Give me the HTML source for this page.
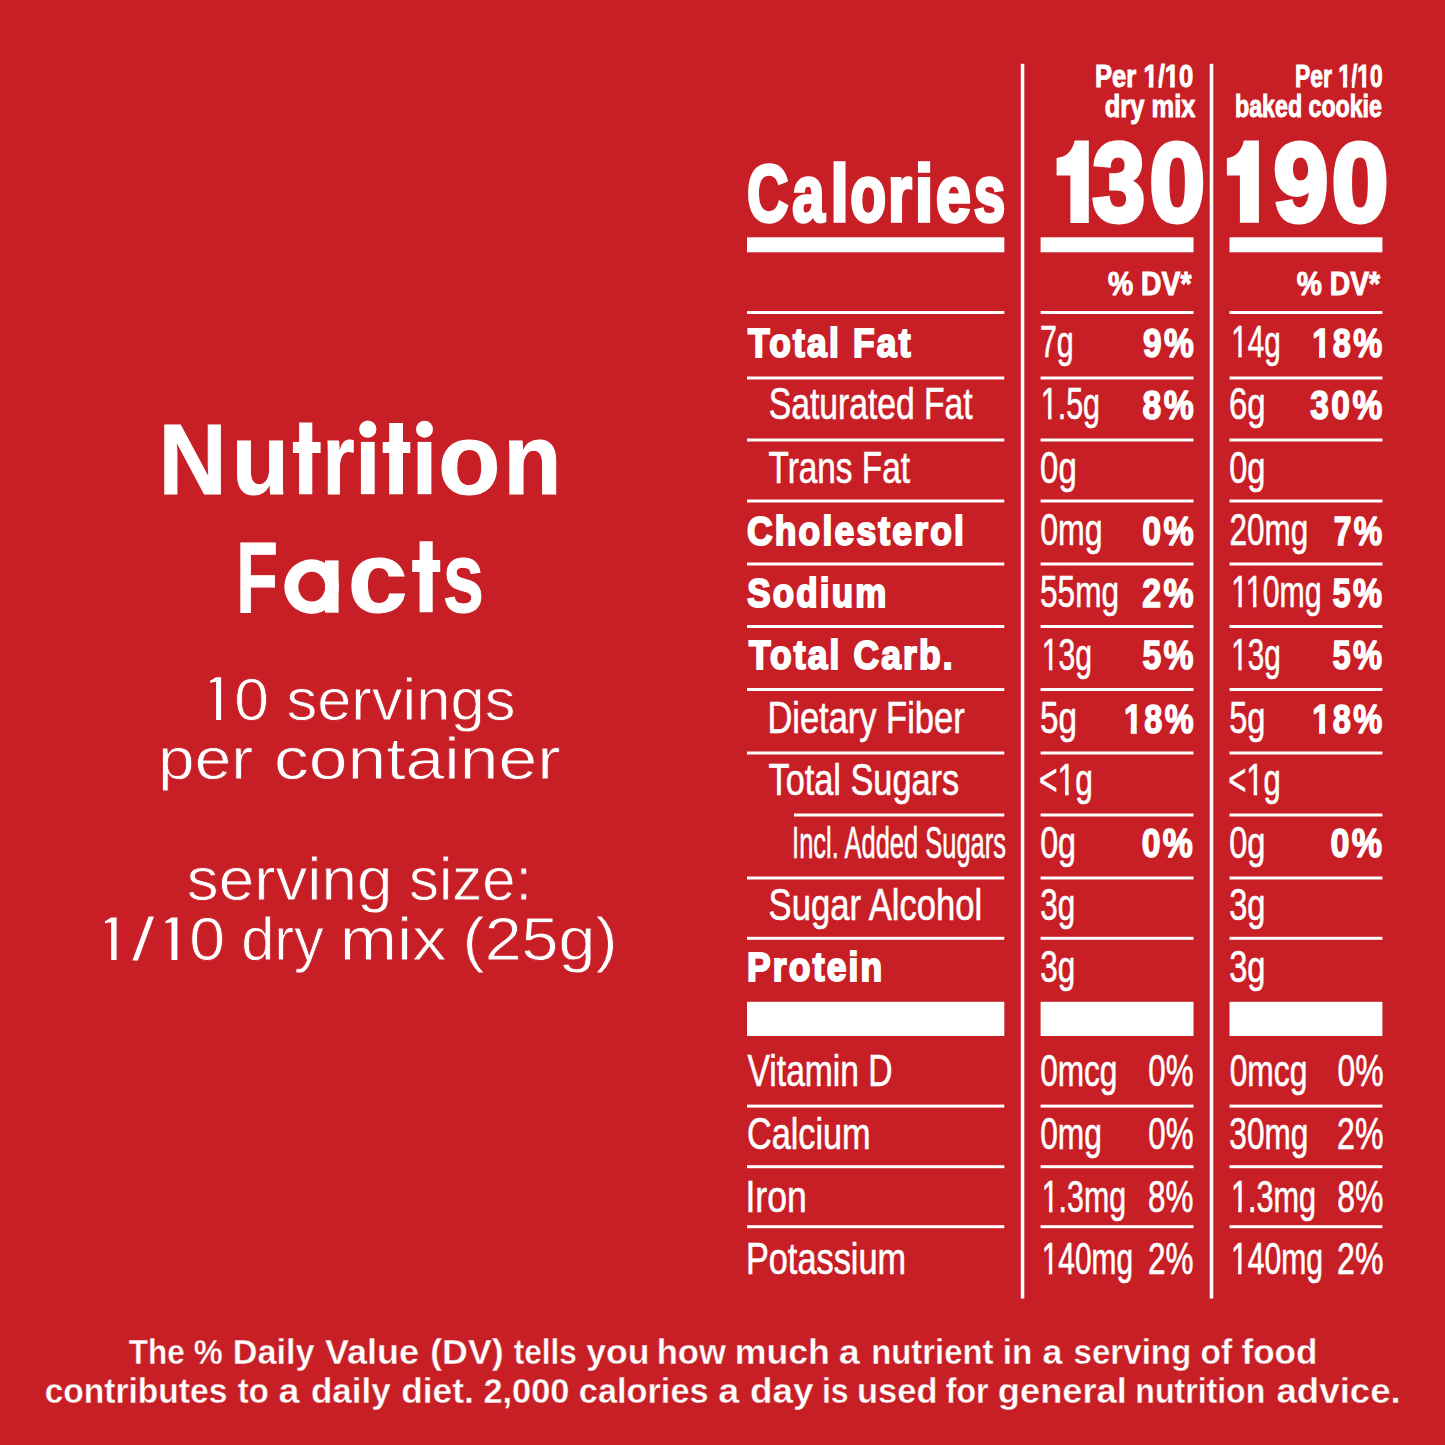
<!DOCTYPE html>
<html><head><meta charset="utf-8"><style>
html,body{margin:0;padding:0;background:#c81f27;}
svg{display:block;}
text{font-family:"Liberation Sans",sans-serif;fill:#fff;white-space:pre;}
</style></head><body>
<svg width="1445" height="1445" viewBox="0 0 1445 1445">
<rect x="0" y="0" width="1445" height="1445" fill="#c81f27"/>
<g fill="#fff">
<circle cx="367.8" cy="429.2" r="8.6"/>
<circle cx="424.5" cy="429.2" r="8.5"/>
<ellipse cx="311.6" cy="586.6" rx="27.3" ry="27.3"/>
<ellipse cx="311.8" cy="586.7" rx="13.4" ry="14.9" fill="#c81f27"/>
<path d="M1070.4,223.1 L1088.8,223.1 L1088.8,140.6 L1074.7,140.6 C1072.5,151 1066,157.5 1056.6,157.9 L1056.6,175.4 L1070.4,175.4 Z"/>
<path d="M1239.9,222.8 L1258.9,222.8 L1258.9,140.6 L1243.9,140.6 C1241.7,151 1235.5,157.6 1226.9,158 L1226.9,175.5 L1239.9,175.5 Z"/>
<path d="M299.1,422.6 H312.3 V442 H320.6 V453 H312.3 V494.2 H299.1 V453 H292.9 V442 H299.1 Z"/>
<path d="M389.2,423.0 H403.0 V442 H410.3 V453 H403.0 V494.2 H389.2 V453 H382.7 V442 H389.2 Z"/>
<path d="M360.9,441.9 H374.7 V494.2 H360.9 Z"/>
<path d="M417.6,441.9 H431.4 V494.2 H417.6 Z"/>
<path d="M419.6,541.2 H432.7 V560 H440.2 V572 H432.7 V612.2 H419.6 V572 H412.2 V560 H419.6 Z"/>
<path d="M325,560.4 H338.6 V612.7 H325 Z"/>
<path d="M216.1,677.2 H221.1 V719.9 H216.1 V681.8000000000001 L210.1,682.8000000000001 L210.1,680.8000000000001 Z"/>
<path d="M111.2,917.6 H116.6 V960 H111.2 V922.2 L105.0,923.2 L105.0,921.2 Z"/>
<path d="M171.5,917.6 H177.4 V960 H171.5 V922.2 L165.5,923.2 L165.5,921.2 Z"/>
<rect x="1020.80" y="63.80" width="3.50" height="1234.70"/>
<rect x="1209.70" y="63.80" width="3.60" height="1234.70"/>
<rect x="747.00" y="237.30" width="257.30" height="15.00"/>
<rect x="747.00" y="1001.80" width="257.30" height="34.20"/>
<rect x="1040.60" y="237.30" width="152.90" height="15.00"/>
<rect x="1040.60" y="1001.80" width="152.90" height="34.20"/>
<rect x="1229.50" y="237.30" width="152.90" height="15.00"/>
<rect x="1229.50" y="1001.80" width="152.90" height="34.20"/>
<rect x="747.00" y="311.00" width="257.30" height="3.00"/>
<rect x="1040.60" y="311.00" width="152.90" height="3.00"/>
<rect x="1229.50" y="311.00" width="152.90" height="3.00"/>
<rect x="747.00" y="376.50" width="257.30" height="3.00"/>
<rect x="1040.60" y="376.50" width="152.90" height="3.00"/>
<rect x="1229.50" y="376.50" width="152.90" height="3.00"/>
<rect x="747.00" y="438.50" width="257.30" height="3.00"/>
<rect x="1040.60" y="438.50" width="152.90" height="3.00"/>
<rect x="1229.50" y="438.50" width="152.90" height="3.00"/>
<rect x="747.00" y="499.50" width="257.30" height="3.00"/>
<rect x="1040.60" y="499.50" width="152.90" height="3.00"/>
<rect x="1229.50" y="499.50" width="152.90" height="3.00"/>
<rect x="747.00" y="562.50" width="257.30" height="3.00"/>
<rect x="1040.60" y="562.50" width="152.90" height="3.00"/>
<rect x="1229.50" y="562.50" width="152.90" height="3.00"/>
<rect x="747.00" y="625.00" width="257.30" height="3.00"/>
<rect x="1040.60" y="625.00" width="152.90" height="3.00"/>
<rect x="1229.50" y="625.00" width="152.90" height="3.00"/>
<rect x="747.00" y="688.00" width="257.30" height="3.00"/>
<rect x="1040.60" y="688.00" width="152.90" height="3.00"/>
<rect x="1229.50" y="688.00" width="152.90" height="3.00"/>
<rect x="747.00" y="751.50" width="257.30" height="3.00"/>
<rect x="1040.60" y="751.50" width="152.90" height="3.00"/>
<rect x="1229.50" y="751.50" width="152.90" height="3.00"/>
<rect x="794.00" y="813.50" width="210.30" height="3.00"/>
<rect x="1040.60" y="813.50" width="152.90" height="3.00"/>
<rect x="1229.50" y="813.50" width="152.90" height="3.00"/>
<rect x="747.00" y="876.50" width="257.30" height="3.00"/>
<rect x="1040.60" y="876.50" width="152.90" height="3.00"/>
<rect x="1229.50" y="876.50" width="152.90" height="3.00"/>
<rect x="747.00" y="936.80" width="257.30" height="3.00"/>
<rect x="1040.60" y="936.80" width="152.90" height="3.00"/>
<rect x="1229.50" y="936.80" width="152.90" height="3.00"/>
<rect x="747.00" y="1104.60" width="257.30" height="3.00"/>
<rect x="1040.60" y="1104.60" width="152.90" height="3.00"/>
<rect x="1229.50" y="1104.60" width="152.90" height="3.00"/>
<rect x="747.00" y="1165.20" width="257.30" height="3.00"/>
<rect x="1040.60" y="1165.20" width="152.90" height="3.00"/>
<rect x="1229.50" y="1165.20" width="152.90" height="3.00"/>
<rect x="747.00" y="1225.20" width="257.30" height="3.00"/>
<rect x="1040.60" y="1225.20" width="152.90" height="3.00"/>
<rect x="1229.50" y="1225.20" width="152.90" height="3.00"/>
</g>
<text id="t0" x="1094.94" y="86.50" font-size="31.57" font-weight="700" stroke="#fff" stroke-linejoin="miter" stroke-miterlimit="2" stroke-width="1.0" textLength="98.32" lengthAdjust="spacingAndGlyphs">Per 1/10</text>
<text x="1104.80" y="117.20" font-size="30.57" font-weight="700" stroke="#fff" stroke-linejoin="miter" stroke-miterlimit="2" stroke-width="1.0" textLength="90.59" lengthAdjust="spacingAndGlyphs">dry mix</text>
<text id="t1" x="1295.08" y="86.50" font-size="31.57" font-weight="700" stroke="#fff" stroke-linejoin="miter" stroke-miterlimit="2" stroke-width="1.0" textLength="87.51" lengthAdjust="spacingAndGlyphs">Per 1/10</text>
<text x="1235.07" y="116.90" font-size="30.57" font-weight="700" stroke="#fff" stroke-linejoin="miter" stroke-miterlimit="2" stroke-width="1.0" textLength="146.89" lengthAdjust="spacingAndGlyphs">baked cookie</text>
<text x="747.06" y="221.45" font-size="80.00" font-weight="700" stroke="#fff" stroke-linejoin="miter" stroke-miterlimit="2" stroke-width="3.5" textLength="41.45" lengthAdjust="spacingAndGlyphs">C</text>
<text x="792.23" y="221.45" font-size="80.00" font-weight="700" stroke="#fff" stroke-linejoin="miter" stroke-miterlimit="2" stroke-width="3.5" textLength="32.39" lengthAdjust="spacingAndGlyphs">a</text>
<text x="830.45" y="221.45" font-size="80.00" font-weight="700" stroke="#fff" stroke-linejoin="miter" stroke-miterlimit="2" stroke-width="3.5" textLength="18.18" lengthAdjust="spacingAndGlyphs">l</text>
<text x="850.24" y="221.45" font-size="80.00" font-weight="700" stroke="#fff" stroke-linejoin="miter" stroke-miterlimit="2" stroke-width="3.5" textLength="35.88" lengthAdjust="spacingAndGlyphs">o</text>
<text x="888.05" y="221.45" font-size="80.00" font-weight="700" stroke="#fff" stroke-linejoin="miter" stroke-miterlimit="2" stroke-width="3.5" textLength="23.87" lengthAdjust="spacingAndGlyphs">r</text>
<text x="914.87" y="221.45" font-size="80.00" font-weight="700" stroke="#fff" stroke-linejoin="miter" stroke-miterlimit="2" stroke-width="3.5" textLength="18.65" lengthAdjust="spacingAndGlyphs">i</text>
<text x="935.75" y="221.45" font-size="80.00" font-weight="700" stroke="#fff" stroke-linejoin="miter" stroke-miterlimit="2" stroke-width="3.5" textLength="35.15" lengthAdjust="spacingAndGlyphs">e</text>
<text x="973.86" y="221.45" font-size="80.00" font-weight="700" stroke="#fff" stroke-linejoin="miter" stroke-miterlimit="2" stroke-width="3.5" textLength="31.54" lengthAdjust="spacingAndGlyphs">s</text>
<text x="1092.57" y="220.50" font-size="110.86" font-weight="700" stroke="#fff" stroke-linejoin="miter" stroke-miterlimit="2" stroke-width="5" textLength="52.52" lengthAdjust="spacingAndGlyphs">3</text>
<text x="1149.46" y="220.50" font-size="110.86" font-weight="700" stroke="#fff" stroke-linejoin="miter" stroke-miterlimit="2" stroke-width="5" textLength="55.50" lengthAdjust="spacingAndGlyphs">0</text>
<text x="1273.57" y="220.50" font-size="110.86" font-weight="700" stroke="#fff" stroke-linejoin="miter" stroke-miterlimit="2" stroke-width="5" textLength="54.87" lengthAdjust="spacingAndGlyphs">9</text>
<text x="1331.63" y="220.50" font-size="110.86" font-weight="700" stroke="#fff" stroke-linejoin="miter" stroke-miterlimit="2" stroke-width="5" textLength="56.57" lengthAdjust="spacingAndGlyphs">0</text>
<text x="1108.03" y="294.80" font-size="32.57" font-weight="700" stroke="#fff" stroke-linejoin="miter" stroke-miterlimit="2" stroke-width="1.0" textLength="83.39" lengthAdjust="spacingAndGlyphs">% DV*</text>
<text x="1296.73" y="294.50" font-size="32.57" font-weight="700" stroke="#fff" stroke-linejoin="miter" stroke-miterlimit="2" stroke-width="1.0" textLength="83.39" lengthAdjust="spacingAndGlyphs">% DV*</text>
<text x="748.03" y="356.60" font-size="40.14" font-weight="700" stroke="#fff" stroke-linejoin="miter" stroke-miterlimit="2" stroke-width="2.0" letter-spacing="2.5" textLength="164.73" lengthAdjust="spacingAndGlyphs">Total Fat</text>
<text x="1039.89" y="357.30" font-size="44.14" font-weight="400" stroke="#fff" stroke-linejoin="miter" stroke-miterlimit="2" stroke-width="0.6" textLength="33.75" lengthAdjust="spacingAndGlyphs">7g</text>
<text x="1142.94" y="356.85" font-size="41.36" font-weight="700" stroke="#fff" stroke-linejoin="miter" stroke-miterlimit="2" stroke-width="1.5" letter-spacing="3.0" textLength="53.23" lengthAdjust="spacingAndGlyphs">9%</text>
<text id="t2" x="1231.28" y="357.30" font-size="44.14" font-weight="400" stroke="#fff" stroke-linejoin="miter" stroke-miterlimit="2" stroke-width="0.6" textLength="49.45" lengthAdjust="spacingAndGlyphs">14g</text>
<text id="t3" x="1312.27" y="356.85" font-size="41.36" font-weight="700" stroke="#fff" stroke-linejoin="miter" stroke-miterlimit="2" stroke-width="1.5" letter-spacing="3.0" textLength="72.26" lengthAdjust="spacingAndGlyphs">18%</text>
<text x="768.71" y="419.20" font-size="44.14" font-weight="400" stroke="#fff" stroke-linejoin="miter" stroke-miterlimit="2" stroke-width="0.6" textLength="203.97" lengthAdjust="spacingAndGlyphs">Saturated Fat</text>
<text id="t4" x="1040.83" y="419.20" font-size="44.14" font-weight="400" stroke="#fff" stroke-linejoin="miter" stroke-miterlimit="2" stroke-width="0.6" textLength="59.18" lengthAdjust="spacingAndGlyphs">1.5g</text>
<text x="1142.60" y="418.75" font-size="41.36" font-weight="700" stroke="#fff" stroke-linejoin="miter" stroke-miterlimit="2" stroke-width="1.5" letter-spacing="3.0" textLength="53.59" lengthAdjust="spacingAndGlyphs">8%</text>
<text x="1228.88" y="419.20" font-size="44.14" font-weight="400" stroke="#fff" stroke-linejoin="miter" stroke-miterlimit="2" stroke-width="0.6" textLength="36.62" lengthAdjust="spacingAndGlyphs">6g</text>
<text x="1310.27" y="418.75" font-size="41.36" font-weight="700" stroke="#fff" stroke-linejoin="miter" stroke-miterlimit="2" stroke-width="1.5" letter-spacing="3.0" textLength="74.34" lengthAdjust="spacingAndGlyphs">30%</text>
<text x="768.56" y="482.70" font-size="44.14" font-weight="400" stroke="#fff" stroke-linejoin="miter" stroke-miterlimit="2" stroke-width="0.6" textLength="141.44" lengthAdjust="spacingAndGlyphs">Trans Fat</text>
<text x="1040.11" y="482.70" font-size="44.14" font-weight="400" stroke="#fff" stroke-linejoin="miter" stroke-miterlimit="2" stroke-width="0.6" textLength="36.58" lengthAdjust="spacingAndGlyphs">0g</text>
<text x="1229.22" y="482.70" font-size="44.14" font-weight="400" stroke="#fff" stroke-linejoin="miter" stroke-miterlimit="2" stroke-width="0.6" textLength="36.26" lengthAdjust="spacingAndGlyphs">0g</text>
<text x="746.97" y="544.70" font-size="40.14" font-weight="700" stroke="#fff" stroke-linejoin="miter" stroke-miterlimit="2" stroke-width="2.0" letter-spacing="2.5" textLength="219.18" lengthAdjust="spacingAndGlyphs">Cholesterol</text>
<text x="1040.14" y="545.40" font-size="44.14" font-weight="400" stroke="#fff" stroke-linejoin="miter" stroke-miterlimit="2" stroke-width="0.6" textLength="62.34" lengthAdjust="spacingAndGlyphs">0mg</text>
<text x="1142.26" y="544.95" font-size="41.36" font-weight="700" stroke="#fff" stroke-linejoin="miter" stroke-miterlimit="2" stroke-width="1.5" letter-spacing="3.0" textLength="53.95" lengthAdjust="spacingAndGlyphs">0%</text>
<text x="1229.44" y="545.40" font-size="44.14" font-weight="400" stroke="#fff" stroke-linejoin="miter" stroke-miterlimit="2" stroke-width="0.6" textLength="78.74" lengthAdjust="spacingAndGlyphs">20mg</text>
<text x="1333.64" y="544.95" font-size="41.36" font-weight="700" stroke="#fff" stroke-linejoin="miter" stroke-miterlimit="2" stroke-width="1.5" letter-spacing="3.0" textLength="50.80" lengthAdjust="spacingAndGlyphs">7%</text>
<text x="747.32" y="606.60" font-size="40.14" font-weight="700" stroke="#fff" stroke-linejoin="miter" stroke-miterlimit="2" stroke-width="2.0" letter-spacing="2.5" textLength="141.11" lengthAdjust="spacingAndGlyphs">Sodium</text>
<text x="1040.05" y="607.30" font-size="44.14" font-weight="400" stroke="#fff" stroke-linejoin="miter" stroke-miterlimit="2" stroke-width="0.6" textLength="79.04" lengthAdjust="spacingAndGlyphs">55mg</text>
<text x="1142.23" y="606.85" font-size="41.36" font-weight="700" stroke="#fff" stroke-linejoin="miter" stroke-miterlimit="2" stroke-width="1.5" letter-spacing="3.0" textLength="53.77" lengthAdjust="spacingAndGlyphs">2%</text>
<text id="t5" x="1231.24" y="607.30" font-size="44.14" font-weight="400" stroke="#fff" stroke-linejoin="miter" stroke-miterlimit="2" stroke-width="0.6" textLength="90.23" lengthAdjust="spacingAndGlyphs">110mg</text>
<text x="1332.51" y="606.85" font-size="41.36" font-weight="700" stroke="#fff" stroke-linejoin="miter" stroke-miterlimit="2" stroke-width="1.5" letter-spacing="3.0" textLength="51.99" lengthAdjust="spacingAndGlyphs">5%</text>
<text x="748.93" y="669.20" font-size="40.14" font-weight="700" stroke="#fff" stroke-linejoin="miter" stroke-miterlimit="2" stroke-width="2.0" letter-spacing="2.5" textLength="205.91" lengthAdjust="spacingAndGlyphs">Total Carb.</text>
<text id="t6" x="1041.74" y="669.90" font-size="44.14" font-weight="400" stroke="#fff" stroke-linejoin="miter" stroke-miterlimit="2" stroke-width="0.6" textLength="50.32" lengthAdjust="spacingAndGlyphs">13g</text>
<text x="1142.40" y="669.45" font-size="41.36" font-weight="700" stroke="#fff" stroke-linejoin="miter" stroke-miterlimit="2" stroke-width="1.5" letter-spacing="3.0" textLength="53.59" lengthAdjust="spacingAndGlyphs">5%</text>
<text id="t7" x="1231.28" y="669.90" font-size="44.14" font-weight="400" stroke="#fff" stroke-linejoin="miter" stroke-miterlimit="2" stroke-width="0.6" textLength="49.45" lengthAdjust="spacingAndGlyphs">13g</text>
<text x="1332.51" y="669.45" font-size="41.36" font-weight="700" stroke="#fff" stroke-linejoin="miter" stroke-miterlimit="2" stroke-width="1.5" letter-spacing="3.0" textLength="51.99" lengthAdjust="spacingAndGlyphs">5%</text>
<text x="767.38" y="733.00" font-size="44.14" font-weight="400" stroke="#fff" stroke-linejoin="miter" stroke-miterlimit="2" stroke-width="0.6" textLength="197.24" lengthAdjust="spacingAndGlyphs">Dietary Fiber</text>
<text x="1039.99" y="733.00" font-size="44.14" font-weight="400" stroke="#fff" stroke-linejoin="miter" stroke-miterlimit="2" stroke-width="0.6" textLength="37.02" lengthAdjust="spacingAndGlyphs">5g</text>
<text id="t8" x="1123.98" y="732.55" font-size="41.36" font-weight="700" stroke="#fff" stroke-linejoin="miter" stroke-miterlimit="2" stroke-width="1.5" letter-spacing="3.0" textLength="71.94" lengthAdjust="spacingAndGlyphs">18%</text>
<text x="1229.22" y="733.00" font-size="44.14" font-weight="400" stroke="#fff" stroke-linejoin="miter" stroke-miterlimit="2" stroke-width="0.6" textLength="36.26" lengthAdjust="spacingAndGlyphs">5g</text>
<text id="t9" x="1312.27" y="732.55" font-size="41.36" font-weight="700" stroke="#fff" stroke-linejoin="miter" stroke-miterlimit="2" stroke-width="1.5" letter-spacing="3.0" textLength="72.26" lengthAdjust="spacingAndGlyphs">18%</text>
<text x="768.55" y="794.70" font-size="44.14" font-weight="400" stroke="#fff" stroke-linejoin="miter" stroke-miterlimit="2" stroke-width="0.6" textLength="190.58" lengthAdjust="spacingAndGlyphs">Total Sugars</text>
<text id="t10" x="1039.03" y="794.70" font-size="44.14" font-weight="400" stroke="#fff" stroke-linejoin="miter" stroke-miterlimit="2" stroke-width="0.6" textLength="53.76" lengthAdjust="spacingAndGlyphs">&lt;1g</text>
<text id="t11" x="1228.26" y="794.70" font-size="44.14" font-weight="400" stroke="#fff" stroke-linejoin="miter" stroke-miterlimit="2" stroke-width="0.6" textLength="52.48" lengthAdjust="spacingAndGlyphs">&lt;1g</text>
<text x="792.08" y="857.70" font-size="44.14" font-weight="400" stroke="#fff" stroke-linejoin="miter" stroke-miterlimit="2" stroke-width="0.6" textLength="213.93" lengthAdjust="spacingAndGlyphs">Incl. Added Sugars</text>
<text x="1040.13" y="857.70" font-size="44.14" font-weight="400" stroke="#fff" stroke-linejoin="miter" stroke-miterlimit="2" stroke-width="0.6" textLength="35.93" lengthAdjust="spacingAndGlyphs">0g</text>
<text x="1141.66" y="857.25" font-size="41.36" font-weight="700" stroke="#fff" stroke-linejoin="miter" stroke-miterlimit="2" stroke-width="1.5" letter-spacing="3.0" textLength="53.63" lengthAdjust="spacingAndGlyphs">0%</text>
<text x="1229.22" y="857.70" font-size="44.14" font-weight="400" stroke="#fff" stroke-linejoin="miter" stroke-miterlimit="2" stroke-width="0.6" textLength="36.26" lengthAdjust="spacingAndGlyphs">0g</text>
<text x="1330.46" y="857.25" font-size="41.36" font-weight="700" stroke="#fff" stroke-linejoin="miter" stroke-miterlimit="2" stroke-width="1.5" letter-spacing="3.0" textLength="54.16" lengthAdjust="spacingAndGlyphs">0%</text>
<text x="768.58" y="919.90" font-size="44.14" font-weight="400" stroke="#fff" stroke-linejoin="miter" stroke-miterlimit="2" stroke-width="0.6" textLength="213.58" lengthAdjust="spacingAndGlyphs">Sugar Alcohol</text>
<text x="1040.16" y="919.90" font-size="44.14" font-weight="400" stroke="#fff" stroke-linejoin="miter" stroke-miterlimit="2" stroke-width="0.6" textLength="34.95" lengthAdjust="spacingAndGlyphs">3g</text>
<text x="1229.22" y="919.90" font-size="44.14" font-weight="400" stroke="#fff" stroke-linejoin="miter" stroke-miterlimit="2" stroke-width="0.6" textLength="36.26" lengthAdjust="spacingAndGlyphs">3g</text>
<text x="746.98" y="981.40" font-size="40.14" font-weight="700" stroke="#fff" stroke-linejoin="miter" stroke-miterlimit="2" stroke-width="2.0" letter-spacing="2.5" textLength="137.47" lengthAdjust="spacingAndGlyphs">Protein</text>
<text x="1040.16" y="982.10" font-size="44.14" font-weight="400" stroke="#fff" stroke-linejoin="miter" stroke-miterlimit="2" stroke-width="0.6" textLength="34.95" lengthAdjust="spacingAndGlyphs">3g</text>
<text x="1229.22" y="982.10" font-size="44.14" font-weight="400" stroke="#fff" stroke-linejoin="miter" stroke-miterlimit="2" stroke-width="0.6" textLength="36.26" lengthAdjust="spacingAndGlyphs">3g</text>
<text x="747.56" y="1086.40" font-size="44.14" font-weight="400" stroke="#fff" stroke-linejoin="miter" stroke-miterlimit="2" stroke-width="0.6" textLength="145.08" lengthAdjust="spacingAndGlyphs">Vitamin D</text>
<text x="1040.15" y="1086.40" font-size="44.14" font-weight="400" stroke="#fff" stroke-linejoin="miter" stroke-miterlimit="2" stroke-width="0.6" textLength="77.30" lengthAdjust="spacingAndGlyphs">0mcg</text>
<text x="1148.26" y="1086.40" font-size="44.14" font-weight="400" stroke="#fff" stroke-linejoin="miter" stroke-miterlimit="2" stroke-width="0.6" textLength="45.23" lengthAdjust="spacingAndGlyphs">0%</text>
<text x="1229.64" y="1086.40" font-size="44.14" font-weight="400" stroke="#fff" stroke-linejoin="miter" stroke-miterlimit="2" stroke-width="0.6" textLength="77.82" lengthAdjust="spacingAndGlyphs">0mcg</text>
<text x="1337.44" y="1086.40" font-size="44.14" font-weight="400" stroke="#fff" stroke-linejoin="miter" stroke-miterlimit="2" stroke-width="0.6" textLength="46.07" lengthAdjust="spacingAndGlyphs">0%</text>
<text x="746.92" y="1149.00" font-size="44.14" font-weight="400" stroke="#fff" stroke-linejoin="miter" stroke-miterlimit="2" stroke-width="0.6" textLength="123.74" lengthAdjust="spacingAndGlyphs">Calcium</text>
<text x="1040.15" y="1149.00" font-size="44.14" font-weight="400" stroke="#fff" stroke-linejoin="miter" stroke-miterlimit="2" stroke-width="0.6" textLength="61.71" lengthAdjust="spacingAndGlyphs">0mg</text>
<text x="1148.26" y="1149.00" font-size="44.14" font-weight="400" stroke="#fff" stroke-linejoin="miter" stroke-miterlimit="2" stroke-width="0.6" textLength="45.23" lengthAdjust="spacingAndGlyphs">0%</text>
<text x="1229.35" y="1149.00" font-size="44.14" font-weight="400" stroke="#fff" stroke-linejoin="miter" stroke-miterlimit="2" stroke-width="0.6" textLength="79.04" lengthAdjust="spacingAndGlyphs">30mg</text>
<text x="1337.11" y="1149.00" font-size="44.14" font-weight="400" stroke="#fff" stroke-linejoin="miter" stroke-miterlimit="2" stroke-width="0.6" textLength="46.40" lengthAdjust="spacingAndGlyphs">2%</text>
<text x="745.44" y="1212.00" font-size="44.14" font-weight="400" stroke="#fff" stroke-linejoin="miter" stroke-miterlimit="2" stroke-width="0.6" textLength="61.24" lengthAdjust="spacingAndGlyphs">Iron</text>
<text id="t12" x="1041.73" y="1212.00" font-size="44.14" font-weight="400" stroke="#fff" stroke-linejoin="miter" stroke-miterlimit="2" stroke-width="0.6" textLength="84.32" lengthAdjust="spacingAndGlyphs">1.3mg</text>
<text x="1148.10" y="1212.00" font-size="44.14" font-weight="400" stroke="#fff" stroke-linejoin="miter" stroke-miterlimit="2" stroke-width="0.6" textLength="45.40" lengthAdjust="spacingAndGlyphs">8%</text>
<text id="t13" x="1230.91" y="1212.00" font-size="44.14" font-weight="400" stroke="#fff" stroke-linejoin="miter" stroke-miterlimit="2" stroke-width="0.6" textLength="85.15" lengthAdjust="spacingAndGlyphs">1.3mg</text>
<text x="1337.28" y="1212.00" font-size="44.14" font-weight="400" stroke="#fff" stroke-linejoin="miter" stroke-miterlimit="2" stroke-width="0.6" textLength="46.23" lengthAdjust="spacingAndGlyphs">8%</text>
<text x="745.89" y="1274.30" font-size="44.14" font-weight="400" stroke="#fff" stroke-linejoin="miter" stroke-miterlimit="2" stroke-width="0.6" textLength="160.23" lengthAdjust="spacingAndGlyphs">Potassium</text>
<text id="t14" x="1041.76" y="1274.30" font-size="44.14" font-weight="400" stroke="#fff" stroke-linejoin="miter" stroke-miterlimit="2" stroke-width="0.6" textLength="91.25" lengthAdjust="spacingAndGlyphs">140mg</text>
<text x="1147.94" y="1274.30" font-size="44.14" font-weight="400" stroke="#fff" stroke-linejoin="miter" stroke-miterlimit="2" stroke-width="0.6" textLength="45.56" lengthAdjust="spacingAndGlyphs">2%</text>
<text id="t15" x="1230.95" y="1274.30" font-size="44.14" font-weight="400" stroke="#fff" stroke-linejoin="miter" stroke-miterlimit="2" stroke-width="0.6" textLength="92.09" lengthAdjust="spacingAndGlyphs">140mg</text>
<text x="1337.11" y="1274.30" font-size="44.14" font-weight="400" stroke="#fff" stroke-linejoin="miter" stroke-miterlimit="2" stroke-width="0.6" textLength="46.40" lengthAdjust="spacingAndGlyphs">2%</text>
<text x="158.53" y="493.70" font-size="100.57" font-weight="700" stroke="#fff" stroke-linejoin="miter" stroke-miterlimit="2" stroke-width="1.0" textLength="68.25" lengthAdjust="spacingAndGlyphs">N</text>
<text x="231.64" y="493.70" font-size="100.57" font-weight="700" stroke="#fff" stroke-linejoin="miter" stroke-miterlimit="2" stroke-width="1.0" textLength="57.27" lengthAdjust="spacingAndGlyphs">u</text>
<text x="322.57" y="493.70" font-size="100.57" font-weight="700" stroke="#fff" stroke-linejoin="miter" stroke-miterlimit="2" stroke-width="1.0" textLength="31.99" lengthAdjust="spacingAndGlyphs">r</text>
<text x="438.02" y="493.70" font-size="100.57" font-weight="700" stroke="#fff" stroke-linejoin="miter" stroke-miterlimit="2" stroke-width="1.0" textLength="62.45" lengthAdjust="spacingAndGlyphs">o</text>
<text x="503.36" y="493.70" font-size="100.57" font-weight="700" stroke="#fff" stroke-linejoin="miter" stroke-miterlimit="2" stroke-width="1.0" textLength="58.38" lengthAdjust="spacingAndGlyphs">n</text>
<text x="236.20" y="611.70" font-size="100.57" font-weight="700" stroke="#fff" stroke-linejoin="miter" stroke-miterlimit="2" stroke-width="1.0" textLength="41.71" lengthAdjust="spacingAndGlyphs">F</text>
<text x="347.73" y="611.70" font-size="100.57" font-weight="700" stroke="#fff" stroke-linejoin="miter" stroke-miterlimit="2" stroke-width="1.0" textLength="59.78" lengthAdjust="spacingAndGlyphs">c</text>
<text x="442.67" y="611.70" font-size="100.57" font-weight="700" stroke="#fff" stroke-linejoin="miter" stroke-miterlimit="2" stroke-width="1.0" textLength="41.32" lengthAdjust="spacingAndGlyphs">s</text>
<text x="234.19" y="720.00" font-size="60.14" font-weight="400" stroke="#c81f27" stroke-width="0.8" textLength="34.69" lengthAdjust="spacingAndGlyphs">0</text>
<text x="286.45" y="720.00" font-size="60.14" font-weight="400" stroke="#c81f27" stroke-width="0.8" textLength="228.94" lengthAdjust="spacingAndGlyphs">servings</text>
<text x="158.09" y="779.40" font-size="60.14" font-weight="400" stroke="#c81f27" stroke-width="0.8" textLength="94.99" lengthAdjust="spacingAndGlyphs">per</text>
<text x="274.00" y="779.40" font-size="60.14" font-weight="400" stroke="#c81f27" stroke-width="0.8" textLength="286.37" lengthAdjust="spacingAndGlyphs">container</text>
<text x="186.87" y="900.20" font-size="61.14" font-weight="400" stroke="#c81f27" stroke-width="0.8" textLength="205.51" lengthAdjust="spacingAndGlyphs">serving</text>
<text x="409.11" y="900.20" font-size="61.14" font-weight="400" stroke="#c81f27" stroke-width="0.8" textLength="123.14" lengthAdjust="spacingAndGlyphs">size:</text>
<text x="131.86" y="960.40" font-size="61.14" font-weight="400" stroke="#c81f27" stroke-width="0.8" textLength="22.91" lengthAdjust="spacingAndGlyphs">/</text>
<text x="189.21" y="960.40" font-size="61.14" font-weight="400" stroke="#c81f27" stroke-width="0.8" textLength="35.76" lengthAdjust="spacingAndGlyphs">0</text>
<text x="241.13" y="960.40" font-size="61.14" font-weight="400" stroke="#c81f27" stroke-width="0.8" textLength="82.61" lengthAdjust="spacingAndGlyphs">dry</text>
<text x="339.79" y="960.40" font-size="61.14" font-weight="400" stroke="#c81f27" stroke-width="0.8" textLength="106.76" lengthAdjust="spacingAndGlyphs">mix</text>
<text x="462.58" y="960.40" font-size="61.14" font-weight="400" stroke="#c81f27" stroke-width="0.8" textLength="154.94" lengthAdjust="spacingAndGlyphs">(25g)</text>
<text x="128.81" y="1363.60" font-size="35.57" font-weight="700" stroke="#c81f27" stroke-width="0.4" textLength="55.86" lengthAdjust="spacingAndGlyphs">The</text>
<text x="193.70" y="1363.60" font-size="35.57" font-weight="700" stroke="#c81f27" stroke-width="0.4" textLength="28.97" lengthAdjust="spacingAndGlyphs">%</text>
<text x="232.79" y="1363.60" font-size="35.57" font-weight="700" stroke="#c81f27" stroke-width="0.4" textLength="81.68" lengthAdjust="spacingAndGlyphs">Daily</text>
<text x="324.94" y="1363.60" font-size="35.57" font-weight="700" stroke="#c81f27" stroke-width="0.4" textLength="94.23" lengthAdjust="spacingAndGlyphs">Value</text>
<text x="430.21" y="1363.60" font-size="35.57" font-weight="700" stroke="#c81f27" stroke-width="0.4" textLength="73.49" lengthAdjust="spacingAndGlyphs">(DV)</text>
<text x="513.71" y="1363.60" font-size="35.57" font-weight="700" stroke="#c81f27" stroke-width="0.4" textLength="63.17" lengthAdjust="spacingAndGlyphs">tells</text>
<text x="586.24" y="1363.60" font-size="35.57" font-weight="700" stroke="#c81f27" stroke-width="0.4" textLength="63.38" lengthAdjust="spacingAndGlyphs">you</text>
<text x="656.68" y="1363.60" font-size="35.57" font-weight="700" stroke="#c81f27" stroke-width="0.4" textLength="69.30" lengthAdjust="spacingAndGlyphs">how</text>
<text x="734.68" y="1363.60" font-size="35.57" font-weight="700" stroke="#c81f27" stroke-width="0.4" textLength="95.24" lengthAdjust="spacingAndGlyphs">much</text>
<text x="838.66" y="1363.60" font-size="35.57" font-weight="700" stroke="#c81f27" stroke-width="0.4" textLength="20.92" lengthAdjust="spacingAndGlyphs">a</text>
<text x="871.18" y="1363.60" font-size="35.57" font-weight="700" stroke="#c81f27" stroke-width="0.4" textLength="122.29" lengthAdjust="spacingAndGlyphs">nutrient</text>
<text x="1002.79" y="1363.60" font-size="35.57" font-weight="700" stroke="#c81f27" stroke-width="0.4" textLength="29.55" lengthAdjust="spacingAndGlyphs">in</text>
<text x="1042.43" y="1363.60" font-size="35.57" font-weight="700" stroke="#c81f27" stroke-width="0.4" textLength="19.86" lengthAdjust="spacingAndGlyphs">a</text>
<text x="1073.56" y="1363.60" font-size="35.57" font-weight="700" stroke="#c81f27" stroke-width="0.4" textLength="117.76" lengthAdjust="spacingAndGlyphs">serving</text>
<text x="1200.47" y="1363.60" font-size="35.57" font-weight="700" stroke="#c81f27" stroke-width="0.4" textLength="31.58" lengthAdjust="spacingAndGlyphs">of</text>
<text x="1241.48" y="1363.60" font-size="35.57" font-weight="700" stroke="#c81f27" stroke-width="0.4" textLength="76.03" lengthAdjust="spacingAndGlyphs">food</text>
<text x="44.67" y="1402.60" font-size="35.57" font-weight="700" stroke="#c81f27" stroke-width="0.4" textLength="182.66" lengthAdjust="spacingAndGlyphs">contributes</text>
<text x="237.79" y="1402.60" font-size="35.57" font-weight="700" stroke="#c81f27" stroke-width="0.4" textLength="30.97" lengthAdjust="spacingAndGlyphs">to</text>
<text x="278.46" y="1402.60" font-size="35.57" font-weight="700" stroke="#c81f27" stroke-width="0.4" textLength="20.92" lengthAdjust="spacingAndGlyphs">a</text>
<text x="310.90" y="1402.60" font-size="35.57" font-weight="700" stroke="#c81f27" stroke-width="0.4" textLength="79.73" lengthAdjust="spacingAndGlyphs">daily</text>
<text x="401.19" y="1402.60" font-size="35.57" font-weight="700" stroke="#c81f27" stroke-width="0.4" textLength="72.63" lengthAdjust="spacingAndGlyphs">diet.</text>
<text x="483.40" y="1402.60" font-size="35.57" font-weight="700" stroke="#c81f27" stroke-width="0.4" textLength="86.05" lengthAdjust="spacingAndGlyphs">2,000</text>
<text x="578.83" y="1402.60" font-size="35.57" font-weight="700" stroke="#c81f27" stroke-width="0.4" textLength="129.74" lengthAdjust="spacingAndGlyphs">calories</text>
<text x="718.16" y="1402.60" font-size="35.57" font-weight="700" stroke="#c81f27" stroke-width="0.4" textLength="20.92" lengthAdjust="spacingAndGlyphs">a</text>
<text x="749.92" y="1402.60" font-size="35.57" font-weight="700" stroke="#c81f27" stroke-width="0.4" textLength="63.49" lengthAdjust="spacingAndGlyphs">day</text>
<text x="821.88" y="1402.60" font-size="35.57" font-weight="700" stroke="#c81f27" stroke-width="0.4" textLength="26.64" lengthAdjust="spacingAndGlyphs">is</text>
<text x="857.04" y="1402.60" font-size="35.57" font-weight="700" stroke="#c81f27" stroke-width="0.4" textLength="80.46" lengthAdjust="spacingAndGlyphs">used</text>
<text x="945.84" y="1402.60" font-size="35.57" font-weight="700" stroke="#c81f27" stroke-width="0.4" textLength="42.76" lengthAdjust="spacingAndGlyphs">for</text>
<text x="997.85" y="1402.60" font-size="35.57" font-weight="700" stroke="#c81f27" stroke-width="0.4" textLength="128.98" lengthAdjust="spacingAndGlyphs">general</text>
<text x="1135.34" y="1402.60" font-size="35.57" font-weight="700" stroke="#c81f27" stroke-width="0.4" textLength="129.94" lengthAdjust="spacingAndGlyphs">nutrition</text>
<text x="1276.49" y="1402.60" font-size="35.57" font-weight="700" stroke="#c81f27" stroke-width="0.4" textLength="124.34" lengthAdjust="spacingAndGlyphs">advice.</text>
<g fill="#c81f27"><rect x="1142.99" y="81.88" width="5.76" height="6.62"/>
<rect x="1153.46" y="81.88" width="5.02" height="6.62"/>
<rect x="1164.35" y="81.88" width="5.76" height="6.62"/>
<rect x="1174.83" y="81.88" width="5.02" height="6.62"/>
<rect x="1337.67" y="81.88" width="5.28" height="6.62"/>
<rect x="1347.19" y="81.88" width="4.58" height="6.62"/>
<rect x="1356.68" y="81.88" width="5.28" height="6.62"/>
<rect x="1366.21" y="81.88" width="4.58" height="6.62"/>
<rect x="1231.73" y="352.79" width="6.59" height="6.31"/>
<rect x="1241.73" y="352.79" width="5.95" height="6.31"/>
<rect x="1312.13" y="350.98" width="6.94" height="8.12"/>
<rect x="1325.11" y="350.98" width="6.11" height="8.12"/>
<rect x="1041.33" y="414.69" width="6.72" height="6.31"/>
<rect x="1051.54" y="414.69" width="6.08" height="6.31"/>
<rect x="1231.73" y="602.79" width="6.69" height="6.31"/>
<rect x="1241.90" y="602.79" width="6.05" height="6.31"/>
<rect x="1246.30" y="602.79" width="6.69" height="6.31"/>
<rect x="1256.46" y="602.79" width="6.05" height="6.31"/>
<rect x="1042.23" y="665.39" width="6.68" height="6.31"/>
<rect x="1052.37" y="665.39" width="6.04" height="6.31"/>
<rect x="1231.73" y="665.39" width="6.59" height="6.31"/>
<rect x="1241.73" y="665.39" width="5.95" height="6.31"/>
<rect x="1123.83" y="726.68" width="6.91" height="8.12"/>
<rect x="1136.76" y="726.68" width="6.09" height="8.12"/>
<rect x="1312.13" y="726.68" width="6.94" height="8.12"/>
<rect x="1325.11" y="726.68" width="6.11" height="8.12"/>
<rect x="1058.13" y="790.19" width="6.95" height="6.31"/>
<rect x="1068.69" y="790.19" width="6.29" height="6.31"/>
<rect x="1246.86" y="790.19" width="6.81" height="6.31"/>
<rect x="1257.22" y="790.19" width="6.17" height="6.31"/>
<rect x="1042.23" y="1207.49" width="6.71" height="6.31"/>
<rect x="1052.42" y="1207.49" width="6.07" height="6.31"/>
<rect x="1231.43" y="1207.49" width="6.76" height="6.31"/>
<rect x="1241.70" y="1207.49" width="6.12" height="6.31"/>
<rect x="1042.23" y="1269.79" width="6.62" height="6.31"/>
<rect x="1052.28" y="1269.79" width="5.98" height="6.31"/>
<rect x="1231.43" y="1269.79" width="6.67" height="6.31"/>
<rect x="1241.56" y="1269.79" width="6.03" height="6.31"/></g>
</svg>
</body></html>
